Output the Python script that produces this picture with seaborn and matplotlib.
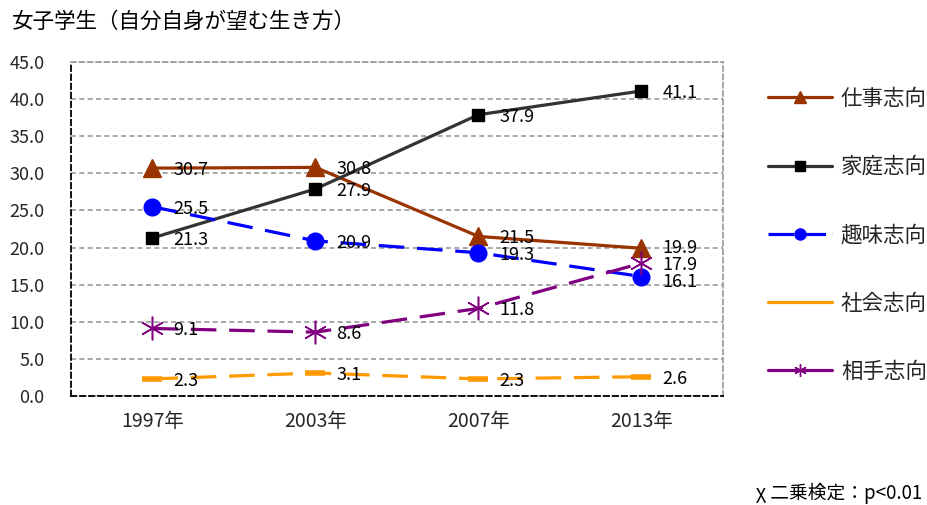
import matplotlib
matplotlib.use("Agg")
import matplotlib.pyplot as plt
from matplotlib.lines import Line2D
import seaborn as sns
import pandas as pd

# Survey years and series values (%)
years = ["1997年", "2003年", "2007年", "2013年"]
work = [30.7, 30.8, 21.5, 19.9]        # 仕事志向
family = [21.3, 27.9, 37.9, 41.1]      # 家庭志向
hobby = [25.5, 20.9, 19.3, 16.1]       # 趣味志向
society = [2.3, 3.1, 2.3, 2.6]         # 社会志向
partner = [9.1, 8.6, 11.8, 17.9]       # 相手志向
series_names = ["仕事志向", "家庭志向", "趣味志向", "社会志向", "相手志向"]
yticks = [0, 5, 10, 15, 20, 25, 30, 35, 40, 45]

sns.set_theme(style="white")
plt.rcParams["font.family"] = ["Noto Sans CJK JP", "DejaVu Sans"]

fig = plt.figure(figsize=(9.28, 5.05), dpi=100)
ax = fig.add_axes([71 / 928, 1 - 396 / 505, (723 - 71) / 928, (396 - 62) / 505])

styles = [
    dict(values=work, color="#993300", ls="-", marker="^", ms=13, mec="#993300", mfc="#993300", mew=1),
    dict(values=family, color="#333333", ls="-", marker="s", ms=9, mec="black", mfc="black", mew=1),
    dict(values=hobby, color="#0000FF", ls=(0, (8, 4)), marker="o", ms=12, mec="#0000FF", mfc="#0000FF", mew=1),
    dict(values=society, color="#FF9900", ls=(0, (8, 4)), marker="_", ms=14, mec="#FF9900", mfc="#FF9900", mew=4),
    dict(values=partner, color="#800080", ls=(0, (8, 4)), marker=(6, 2, 0), ms=17, mec="#800080", mfc="#800080", mew=1.1),
]

# small vertical nudges for the crowded labels at the last year
nudge = {(0, 3): 2, (4, 3): 0, (2, 3): -3}

x = list(range(len(years)))
for si, (name, st) in enumerate(zip(series_names, styles)):
    df = pd.DataFrame({"x": x, "y": st["values"]})
    sns.lineplot(data=df, x="x", y="y", ax=ax, color=st["color"], lw=2.3,
                 linestyle=st["ls"], marker=st["marker"], markersize=st["ms"],
                 markeredgecolor=st["mec"], markerfacecolor=st["mfc"],
                 markeredgewidth=st["mew"], legend=False)
    for xi, v in zip(x, st["values"]):
        dy = nudge.get((si, xi), 0)
        ax.annotate(f"{v:.1f}", (xi, v), xytext=(21, -2 + dy), textcoords="offset pixels",
                    ha="left", va="center", fontsize=13, color="black")

ax.set_xlim(-0.5, 3.5)
ax.set_ylim(0, 45)
ax.set_xticks(x)
ax.set_xticklabels(years, fontsize=14)
ax.set_yticks(yticks)
ax.set_yticklabels([f"{v:.1f}" for v in yticks], fontsize=13)
ax.tick_params(axis="x", length=0, pad=11)
ax.tick_params(axis="y", length=0, pad=19)
ax.set_xlabel("")
ax.set_ylabel("")
ax.yaxis.grid(True, color="#999999", ls=(0, (3, 2)), lw=1.2)
ax.xaxis.grid(False)
for side in ["top", "right"]:
    ax.spines[side].set_color("#999999")
    ax.spines[side].set_linestyle((0, (3, 2)))
    ax.spines[side].set_linewidth(1.2)
for side in ["left", "bottom"]:
    ax.spines[side].set_color("black")
    ax.spines[side].set_linestyle((0, (3, 2)))
    ax.spines[side].set_linewidth(1.3)
ax.set_axisbelow(True)

# Legend with smaller markers
handles = [
    Line2D([], [], color="#993300", lw=2.3, marker="^", ms=8, mfc="#993300", mec="#993300"),
    Line2D([], [], color="#333333", lw=2.3, marker="s", ms=7, mfc="black", mec="black"),
    Line2D([], [], color="#0000FF", lw=2.3, ls=(0, (8, 2)), marker="o", ms=8, mfc="#0000FF", mec="#0000FF"),
    Line2D([], [], color="#FF9900", lw=2.3),
    Line2D([], [], color="#800080", lw=2.3, marker=(6, 2, 0), ms=9, mec="#800080"),
]
fig.legend(handles, series_names, loc="upper left", bbox_to_anchor=(757 / 928, 1 - 77 / 505),
           frameon=False, fontsize=15.5, handlelength=3.0, handletextpad=0.4,
           labelspacing=2.15, borderpad=0, markerfirst=True)

fig.text(12 / 928, 1 - 22 / 505, "女子学生（自分自身が望む生き方）", fontsize=15.5,
         ha="left", va="center", color="black")
fig.text(922 / 928, 1 - 493 / 505, "χ 二乗検定：p<0.01", fontsize=13.5,
         ha="right", va="center", color="black")

fig.savefig("out.png", dpi=100)
